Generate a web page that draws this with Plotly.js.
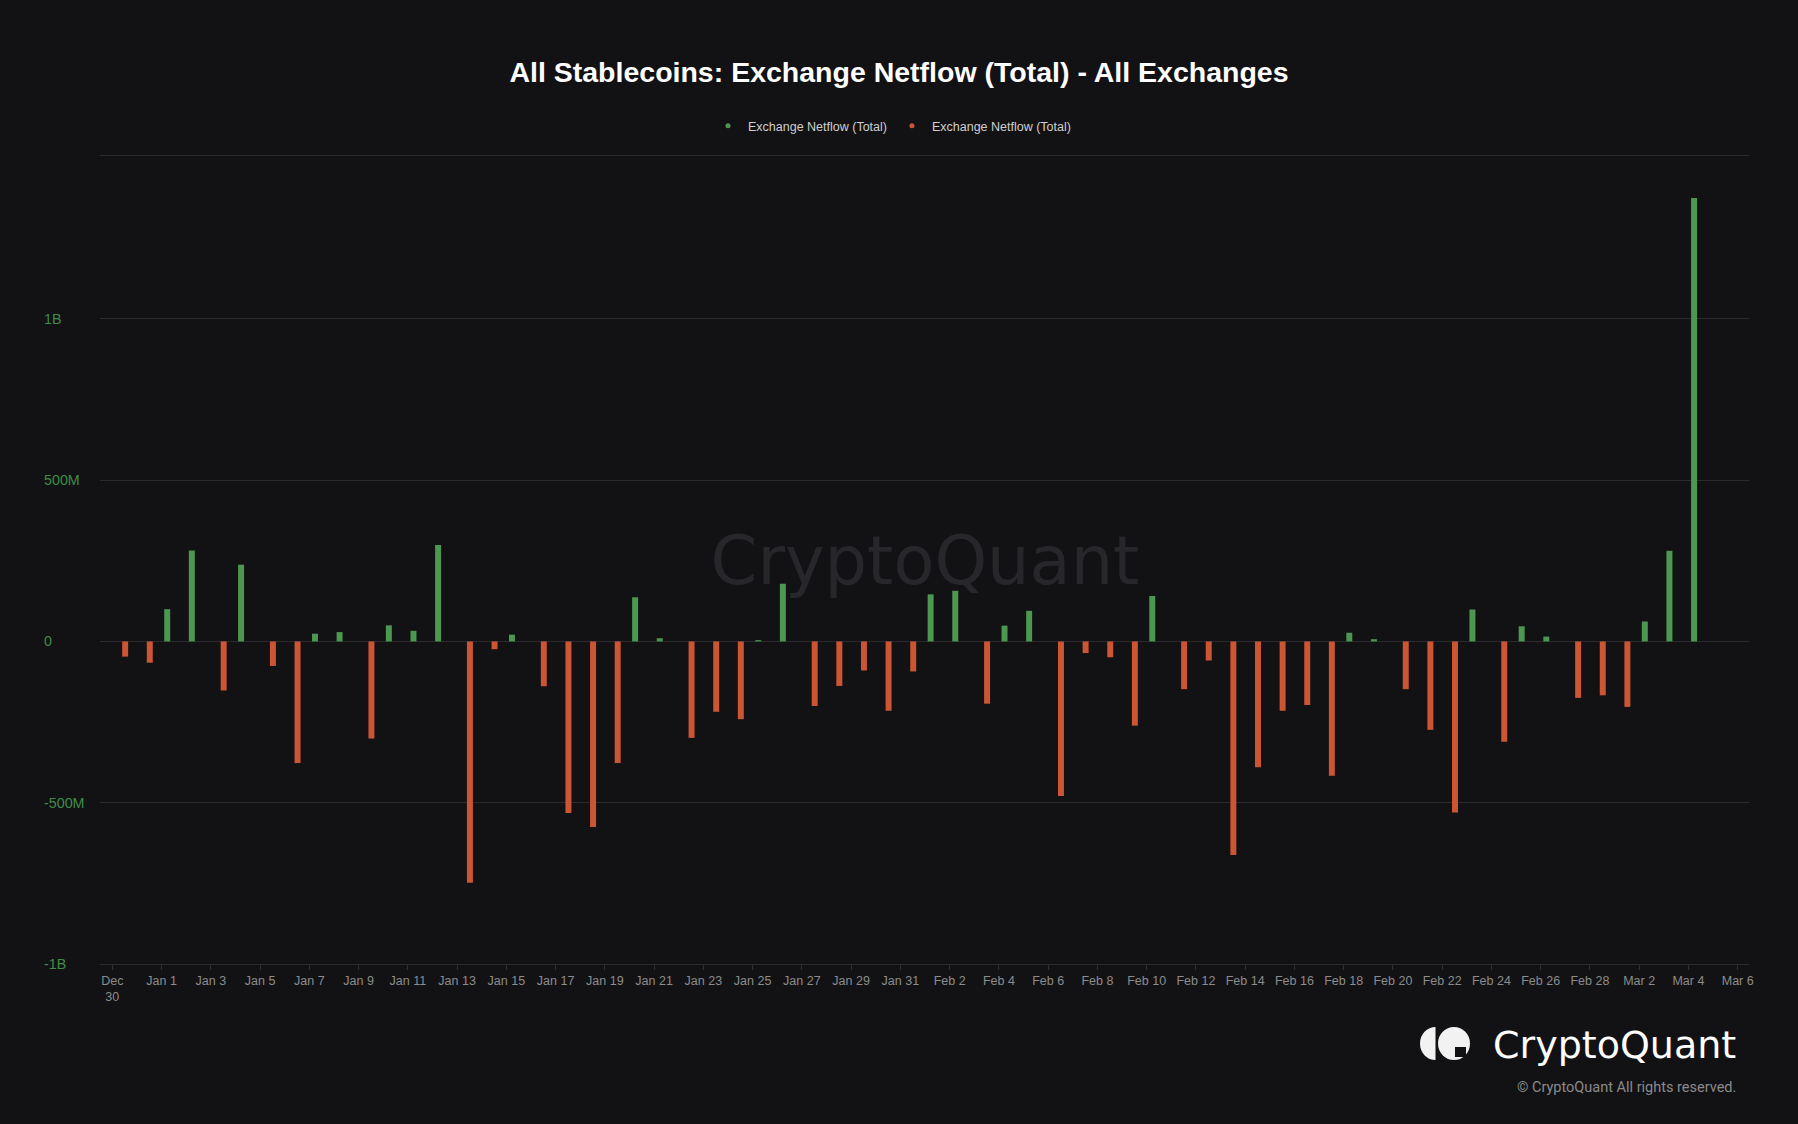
<!DOCTYPE html>
<html>
<head>
<meta charset="utf-8">
<script src="https://cdn.plot.ly/plotly-3.0.1.min.js"></script>
<style>
  html, body { margin: 0; padding: 0; background: #121215; }
  #chart { width: 1798px; height: 1124px; }
</style>
</head>
<body>
<div id="chart"></div>
<script>
// ---- Data (values in millions of USD) ----
const dates = [
  '2024-12-30','2024-12-31','2025-01-01','2025-01-02','2025-01-03','2025-01-04','2025-01-05',
  '2025-01-06','2025-01-07','2025-01-08','2025-01-09','2025-01-10','2025-01-11','2025-01-12',
  '2025-01-13','2025-01-14','2025-01-15','2025-01-16','2025-01-17','2025-01-18','2025-01-19',
  '2025-01-20','2025-01-21','2025-01-22','2025-01-23','2025-01-24','2025-01-25','2025-01-26',
  '2025-01-27','2025-01-28','2025-01-29','2025-01-30','2025-01-31','2025-02-01','2025-02-02',
  '2025-02-03','2025-02-04','2025-02-05','2025-02-06','2025-02-07','2025-02-08','2025-02-09',
  '2025-02-10','2025-02-11','2025-02-12','2025-02-13','2025-02-14','2025-02-15','2025-02-16',
  '2025-02-17','2025-02-18','2025-02-19','2025-02-20','2025-02-21','2025-02-22','2025-02-23',
  '2025-02-24','2025-02-25','2025-02-26','2025-02-27','2025-02-28','2025-03-01','2025-03-02',
  '2025-03-03','2025-03-04'
];
const netflow = [
  -47, -66, 100, 282, -152, 238, -76,
  -377, 24, 29, -301, 50, 33, 299,
  -748, -24, 21, -139, -532, -575, -377,
  137, 10, -299, -218, -241, 4, 179,
  -200, -138, -90, -215, -93, 146, 157,
  -193, 49, 95, -479, -36, -49, -261,
  141, -148, -59, -662, -390, -215, -197,
  -416, 27, 7, -148, -274, -530, 99,
  -311, 47, 15, -175, -167, -203, 62,
  281, 1375
];
const xTickDates = [
  '2024-12-30','2025-01-01','2025-01-03','2025-01-05','2025-01-07','2025-01-09','2025-01-11',
  '2025-01-13','2025-01-15','2025-01-17','2025-01-19','2025-01-21','2025-01-23','2025-01-25',
  '2025-01-27','2025-01-29','2025-01-31','2025-02-02','2025-02-04','2025-02-06','2025-02-08',
  '2025-02-10','2025-02-12','2025-02-14','2025-02-16','2025-02-18','2025-02-20','2025-02-22',
  '2025-02-24','2025-02-26','2025-02-28','2025-03-02','2025-03-04','2025-03-06'
];
const xTickLabels = [
  'Dec<br>30','Jan 1','Jan 3','Jan 5','Jan 7','Jan 9','Jan 11',
  'Jan 13','Jan 15','Jan 17','Jan 19','Jan 21','Jan 23','Jan 25',
  'Jan 27','Jan 29','Jan 31','Feb 2','Feb 4','Feb 6','Feb 8',
  'Feb 10','Feb 12','Feb 14','Feb 16','Feb 18','Feb 20','Feb 22',
  'Feb 24','Feb 26','Feb 28','Mar 2','Mar 4','Mar 6'
];
const yTickVals = [-1000, -500, 0, 500, 1000];
const yTickLabels = ['-1B', '-500M', '0', '500M', '1B'];
const seriesName = 'Exchange Netflow (Total)';

// ---- Styling ----
const BG = '#121215';
const GREEN = '#4c9850';
const RED = '#cc5533';
const GRID = '#2a2a2f';

// daily values are stamped at 00:00 UTC, shown in KST (+9h)
const xBars = dates.map(d => d + ' 09:00');
const inflow = netflow.map(v => (v >= 0 ? v : null));
const outflow = netflow.map(v => (v < 0 ? v : null));

const traces = [
  { type: 'bar', x: xBars, y: inflow, marker: { color: GREEN, line: { width: 0 } }, showlegend: false, hoverinfo: 'x+y' },
  { type: 'bar', x: xBars, y: outflow, marker: { color: RED, line: { width: 0 } }, showlegend: false, hoverinfo: 'x+y' },
  { type: 'scatter', mode: 'markers', x: [null], y: [null], name: seriesName, marker: { color: GREEN, size: 5 }, showlegend: true },
  { type: 'scatter', mode: 'markers', x: [null], y: [null], name: seriesName, marker: { color: RED, size: 5 }, showlegend: true }
];

// pixel -> paper helpers (plot area: x 40..1750 paper, y 156..964)
const ML = 40, MR = 48, MT = 156, MB = 160, W = 1798, H = 1124;
const PW = W - ML - MR, PH = H - MT - MB;
const px = v => (v - ML) / PW;
const py = v => (H - MB - v) / PH;

const layout = {
  width: W, height: H,
  paper_bgcolor: BG, plot_bgcolor: BG,
  margin: { l: ML, r: MR, t: MT, b: MB },
  font: { family: '"Liberation Sans", Arial, sans-serif', color: '#8c8c8c' },
  title: {
    text: '<b>All Stablecoins: Exchange Netflow (Total) - All Exchanges</b>',
    font: { size: 28.5, color: '#ffffff', family: '"Liberation Sans", Arial, sans-serif' },
    x: 0.5, xref: 'container', xanchor: 'center',
    y: 1 - 72 / H, yref: 'container', yanchor: 'middle'
  },
  legend: {
    orientation: 'h', x: 0.5 - 7 / W, xref: 'container', xanchor: 'center',
    y: 1 - 126 / H, yref: 'container', yanchor: 'middle',
    font: { size: 12.5, color: '#cfcfcf' }, bgcolor: 'rgba(0,0,0,0)',
    itemwidth: 30
  },
  barmode: 'group', bargap: 0.415, bargroupgap: 0.17,
  xaxis: {
    type: 'date', domain: [px(100), 1],
    range: ['2024-12-29 12:00', '2025-03-06 12:00'],
    tickmode: 'array', tickvals: xTickDates, ticktext: xTickLabels,
    tickfont: { size: 12.5, color: '#8c8c8c' },
    ticks: 'outside', ticklen: 5, tickcolor: '#2e2e33', tickwidth: 1,
    showgrid: false, zeroline: false,
    showline: true, linecolor: GRID, linewidth: 1, mirror: true,
    fixedrange: true
  },
  yaxis: {
    anchor: 'free', position: 0, side: 'right',
    range: [-1000, 1505],
    tickmode: 'array', tickvals: yTickVals, ticktext: yTickLabels,
    ticklabelposition: 'outside', ticklabelstandoff: 3,
    tickfont: { size: 14.3, color: '#3f8c48' },
    showgrid: true, gridcolor: GRID, gridwidth: 1,
    zeroline: false, showline: false, ticks: '',
    fixedrange: true
  },
  shapes: [
    // faint watermark
    {
      type: 'rect', xref: 'paper', yref: 'paper', layer: 'below',
      x0: px(700), x1: px(1150), y0: py(600), y1: py(512),
      line: { width: 0 }, fillcolor: 'rgba(0,0,0,0)',
      label: { text: 'CryptoQuant', textposition: 'middle center',
               font: { size: 67, color: '#27272b', family: '"DejaVu Sans", sans-serif' } }
    },
    // logo mark
    { type: 'circle', xref: 'paper', yref: 'paper', x0: px(1420), x1: px(1451), y0: py(1060), y1: py(1027),
      fillcolor: '#f2f2f2', line: { width: 0 } },
    { type: 'rect', xref: 'paper', yref: 'paper', x0: px(1435.5), x1: px(1455), y0: py(1063), y1: py(1024),
      fillcolor: BG, line: { width: 0 } },
    { type: 'circle', xref: 'paper', yref: 'paper', x0: px(1438), x1: px(1470), y0: py(1060), y1: py(1027),
      fillcolor: '#f2f2f2', line: { width: 0 } },
    { type: 'rect', xref: 'paper', yref: 'paper', x0: px(1455), x1: px(1466), y0: py(1057), y1: py(1047),
      fillcolor: BG, line: { width: 0 } }
  ],
  annotations: [
    { text: 'CryptoQuant', xref: 'paper', yref: 'paper', x: px(1738), y: py(1045),
      xanchor: 'right', yanchor: 'middle', showarrow: false,
      font: { size: 38, color: '#ffffff', family: '"DejaVu Sans", sans-serif' } },
    { text: '© CryptoQuant All rights reserved.', xref: 'paper', yref: 'paper', x: px(1738), y: py(1087),
      xanchor: 'right', yanchor: 'middle', showarrow: false,
      font: { size: 14.5, color: '#8a8a8a', family: 'Roboto, sans-serif' } }
  ]
};

Plotly.newPlot('chart', traces, layout, { displayModeBar: false, staticPlot: true });
</script>
</body>
</html>
